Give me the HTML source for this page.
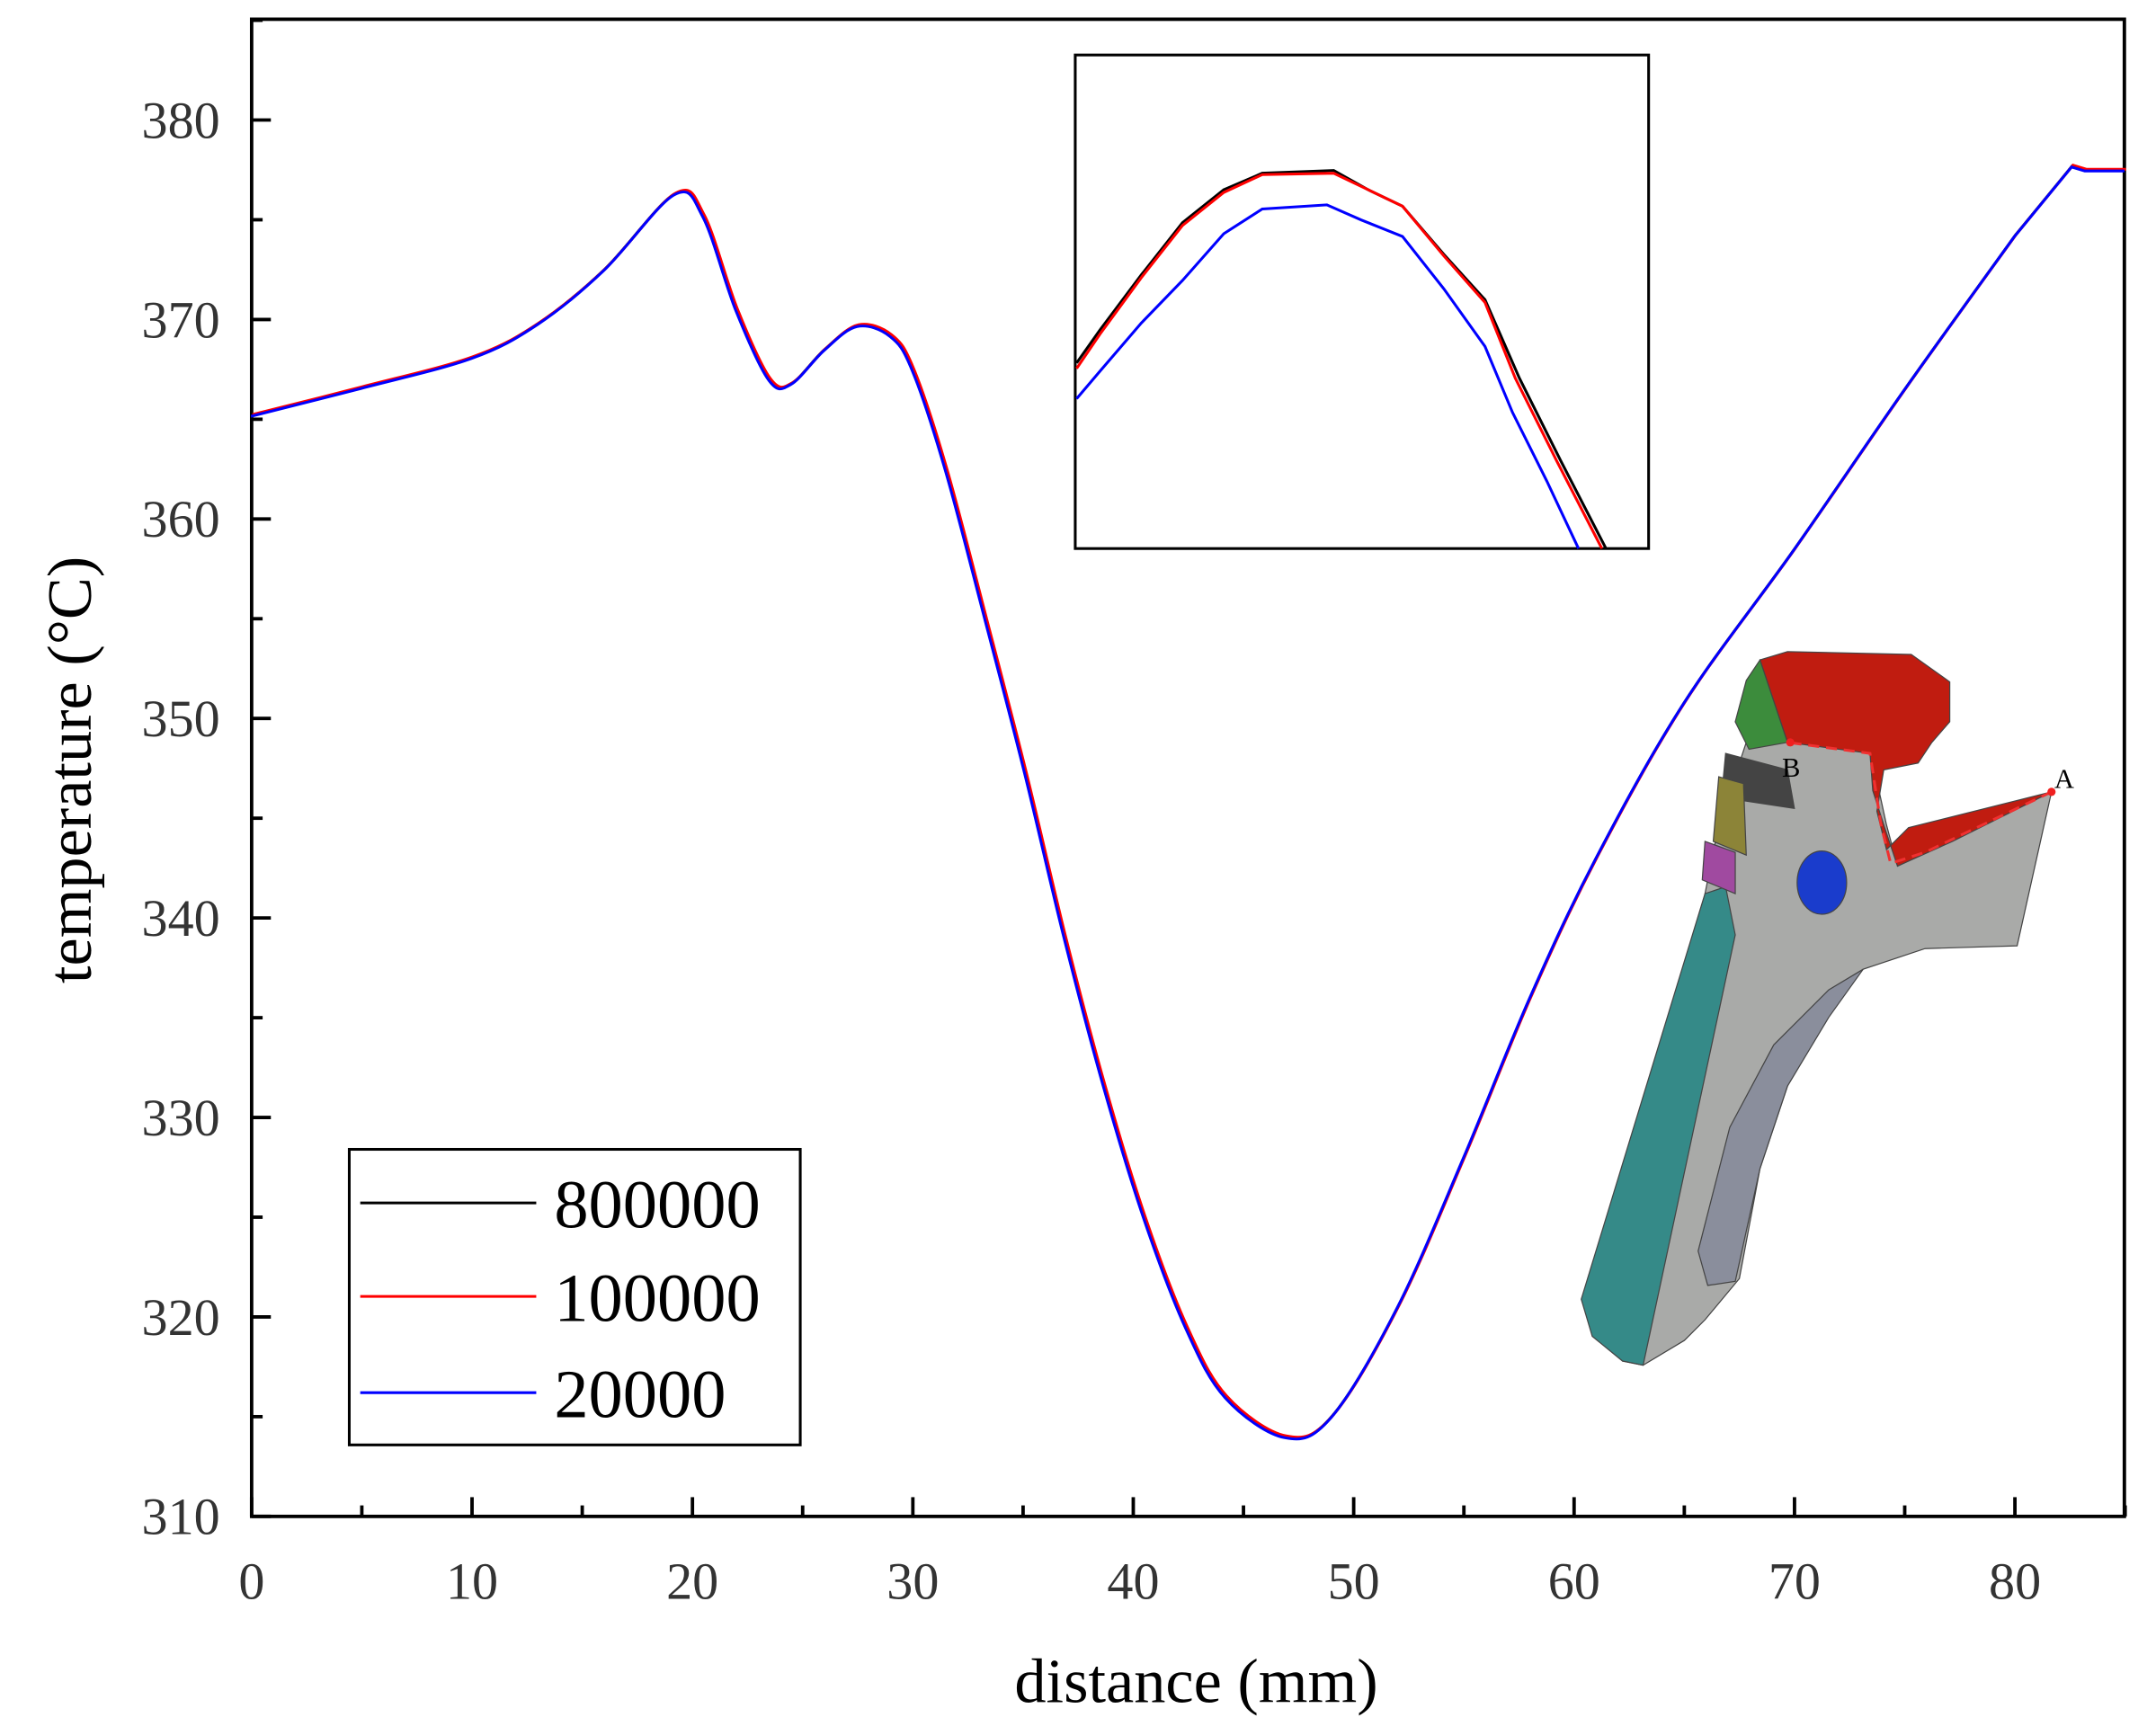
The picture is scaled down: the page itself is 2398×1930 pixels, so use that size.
<!DOCTYPE html>
<html><head><meta charset="utf-8"><style>html,body{margin:0;padding:0;background:#fff}svg{display:block}</style></head>
<body>
<svg id="s" width="2398" height="1930" viewBox="0 0 1568 1262" preserveAspectRatio="none" xmlns="http://www.w3.org/2000/svg" font-family="Liberation Serif, serif">
<rect width="1568" height="1262" fill="#fff"/>
<g stroke="#444" stroke-width="0.8">
<polygon fill="#a9aaa8" points="1300,540 1360,545 1372,600 1380,630 1492,576 1467,688 1400,690 1355,705 1310,760 1280,850 1265,930 1240,960 1225,975 1195,993 1180,990 1240,650 1250,600 1270,540"/>
<polygon fill="#8a8e9c" points="1355,705 1330,740 1300,790 1280,850 1262,932 1242,935 1235,910 1258,820 1290,760 1330,720"/>
<polygon fill="#358a88" points="1255,645 1240,650 1150,945 1158,972 1180,990 1195,993 1262,680"/>
<polygon fill="#c01c10" points="1280,480 1300,474 1390,476 1418,496 1418,525 1405,540 1395,555 1370,560 1365,590 1372,618 1388,602 1492,576 1420,612 1380,630 1370,600 1362,575 1360,548 1300,540 1290,510"/>
<polygon fill="#3c8c3c" points="1270,495 1280,480 1290,510 1300,540 1272,545 1262,525"/>
<polygon fill="#444" points="1255,548 1300,560 1305,588 1252,580"/>
<polygon fill="#8c8438" points="1250,565 1268,570 1270,622 1246,612"/>
<polygon fill="#a04aa0" points="1240,612 1262,620 1262,650 1238,640"/>
<ellipse cx="1325" cy="642" rx="18" ry="23" fill="#1a3ccc"/>
</g>
<polyline points="1492,576 1400,620 1375,628 1368,600 1360,548 1300,540" fill="none" stroke="#f03030" stroke-width="2" stroke-dasharray="8,5"/>
<circle cx="1492" cy="576" r="3" fill="#f02020"/><circle cx="1302" cy="540" r="3" fill="#f02020"/>
<text x="1296" y="565" font-size="20">B</text><text x="1494" y="573" font-size="20">A</text>
<rect x="183" y="14" width="1362" height="1089" fill="none" stroke="#000" stroke-width="2.5"/>
<g id="ticks" stroke="#000" stroke-width="2.5"></g>
<g id="lbl" font-size="38" fill="#333"></g>
<text x="870" y="1238" font-size="46" text-anchor="middle">distance (mm)</text>
<text transform="translate(66,560) rotate(-90)" font-size="46" text-anchor="middle">temperature (°C)</text>
<g id="curves" fill="none" stroke-width="2"></g>
<rect x="782" y="40" width="417" height="359" fill="#fff" stroke="#000" stroke-width="2"/>
<polyline fill="none" stroke="#000" stroke-width="2" points="783,264 800,240 830,200 860,162 890,138 918,126 970,124 995,138 1020,150 1050,185 1080,218 1105,275 1135,335 1168,399"/>
<polyline fill="none" stroke="#f00" stroke-width="2" points="783,268 800,243 830,202 860,164 890,140 918,127 970,126 995,138 1020,150 1050,186 1080,220 1102,275 1132,335 1165,399"/>
<polyline fill="none" stroke="#00f" stroke-width="2" points="783,290 800,270 830,235 860,204 890,170 918,152 965,149 990,160 1020,172 1050,210 1080,252 1100,300 1125,350 1148,399"/>
<rect x="254" y="836" width="328" height="215" fill="#fff" stroke="#000" stroke-width="2"/>
<line x1="262" y1="875" x2="390" y2="875" stroke="#000" stroke-width="2"/>
<line x1="262" y1="943" x2="390" y2="943" stroke="#f00" stroke-width="2"/>
<line x1="262" y1="1013" x2="390" y2="1013" stroke="#00f" stroke-width="2"/>
<text x="403" y="893" font-size="50">800000</text>
<text x="403" y="961" font-size="50">100000</text>
<text x="403" y="1031" font-size="50">20000</text>
</svg>
<script>
var NS="http://www.w3.org/2000/svg";
function X(m){return 183+m*16.03}function Y(t){return 1103-(t-310)*14.51}
function el(p,n,a){var e=document.createElementNS(NS,n);for(var k in a)e.setAttribute(k,a[k]);p.appendChild(e);return e}
var tk=document.getElementById('ticks'),lb=document.getElementById('lbl');
for(var m=0;m<=85;m+=5){var L=m%10==0?14:8;el(tk,'line',{x1:X(m),x2:X(m),y1:1103,y2:1103-L});if(m%10==0){var t=el(lb,'text',{x:X(m),y:1163,'text-anchor':'middle'});t.textContent=m;}}
for(var v=310;v<=385;v+=5){var L=v%10==0?14:8;el(tk,'line',{x1:183,x2:183+L,y1:Y(v),y2:Y(v)});if(v%10==0){var t=el(lb,'text',{x:160,y:Y(v)+13,'text-anchor':'end'});t.textContent=v;}}
var P=[[0,365.2],[5,366.6],[10,368.1],[13,369.8],[16,372.5],[19.2,376.3],[20.5,375.2],[22,370.5],[23.5,367],[24.5,366.8],[26,368.5],[27.5,369.7],[29,369.2],[30,367.5],[31.5,362.5],[33.3,355],[35.1,347.3],[36.9,339],[38.7,331.5],[40.5,325],[42.4,319.5],[44.2,316],[46.9,314],[49,315],[52,320.5],[55,328],[58,336],[61,343],[65,350.8],[70,358.5],[75,366.5],[80,374.2]];
function path(dx,dy){var p=P.map(function(a){return [X(a[0])+dx,Y(a[1])+dy]});var d="M"+p[0];for(var i=0;i<p.length-1;i++){var a=p[i-1]||p[i],b=p[i],c=p[i+1],e=p[i+2]||c;d+=" C"+(b[0]+(c[0]-a[0])/6)+","+(b[1]+(c[1]-a[1])/6)+" "+(c[0]-(e[0]-b[0])/6)+","+(c[1]-(e[1]-b[1])/6)+" "+c[0]+","+c[1];}
d+=" L"+(X(82.6)+dx)+","+(Y(377.7)+dy)+" L"+(X(83.2)+dx)+","+(Y(377.5)+dy)+" L"+(X(85)+dx)+","+(Y(377.5)+dy);return d}
var cg=document.getElementById('curves');
el(cg,'path',{d:path(0,0),stroke:'#000'});el(cg,'path',{d:path(0.6,-0.5),stroke:'#f00'});el(cg,'path',{d:path(-0.5,0.8),stroke:'#00f'});
</script>
</body></html>
